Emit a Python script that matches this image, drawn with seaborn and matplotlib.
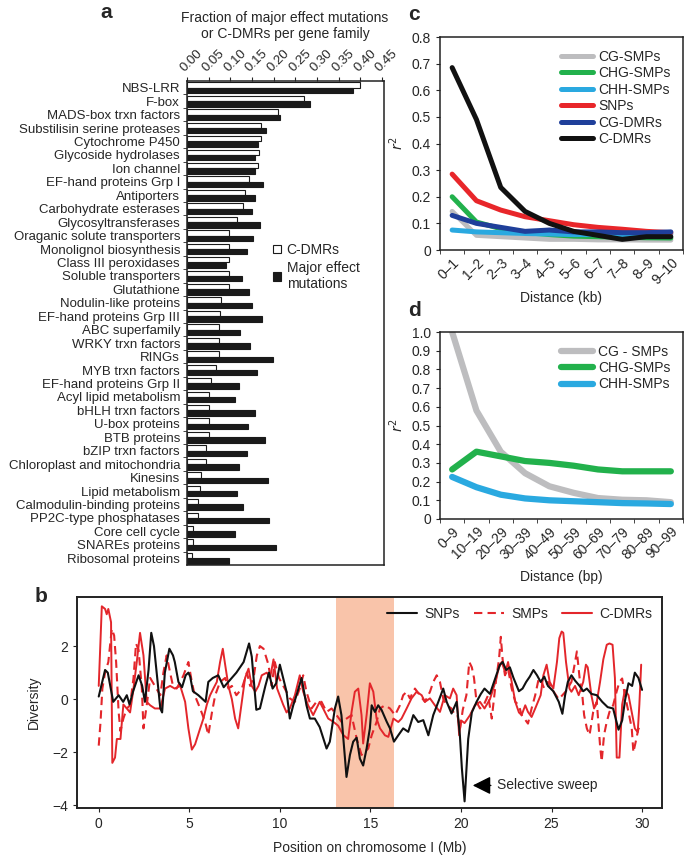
import numpy as np
import pandas as pd
import matplotlib
matplotlib.use("Agg")
import matplotlib.pyplot as plt
from matplotlib.patches import Patch
from matplotlib.lines import Line2D
import seaborn as sns

# ---------------------------
# Data
# ---------------------------
families = ["NBS-LRR", "F-box", "MADS-box trxn factors", "Substilisin serine proteases",
            "Cytochrome P450", "Glycoside hydrolases", "Ion channel", "EF-hand proteins Grp I",
            "Antiporters", "Carbohydrate esterases", "Glycosyltransferases",
            "Oraganic solute transporters", "Monolignol biosynthesis", "Class III peroxidases",
            "Soluble transporters", "Glutathione", "Nodulin-like proteins",
            "EF-hand proteins Grp III", "ABC superfamily", "WRKY trxn factors", "RINGs",
            "MYB trxn factors", "EF-hand proteins Grp II", "Acyl lipid metabolism",
            "bHLH trxn factors", "U-box proteins", "BTB proteins", "bZIP trxn factors",
            "Chloroplast and mitochondria", "Kinesins", "Lipid metabolism",
            "Calmodulin-binding proteins", "PP2C-type phosphatases", "Core cell cycle",
            "SNAREs proteins", "Ribosomal proteins"]
cdmr_frac = [0.40, 0.27, 0.21, 0.172, 0.171, 0.166, 0.165, 0.143, 0.133, 0.13, 0.115, 0.098,
             0.098, 0.097, 0.096, 0.096, 0.078, 0.076, 0.074, 0.073, 0.073, 0.068, 0.055, 0.051,
             0.05, 0.05, 0.05, 0.043, 0.043, 0.032, 0.031, 0.026, 0.026, 0.015, 0.014, 0.012]
major_frac = [0.383, 0.283, 0.215, 0.182, 0.165, 0.158, 0.158, 0.175, 0.158, 0.149, 0.169, 0.152,
              0.138, 0.09, 0.128, 0.143, 0.15, 0.174, 0.123, 0.146, 0.198, 0.162, 0.12, 0.111,
              0.158, 0.142, 0.181, 0.138, 0.12, 0.187, 0.116, 0.129, 0.19, 0.112, 0.206, 0.098]

# panel b: diversity along chromosome I
snp_pos = [0, 0.35, 0.5, 0.8, 1.1, 1.35, 1.55, 1.7, 1.9, 2.2, 2.4, 2.55, 2.75, 2.9, 3.05, 3.4, 3.5,
           3.65, 3.9, 4.1, 4.2, 4.4, 4.6, 4.8, 4.95, 5.05, 5.2, 5.5, 5.9, 6.05, 6.3, 6.6, 6.9, 7.35,
           7.6, 8.0, 8.3, 8.45, 8.55, 8.7, 8.9, 9.2, 9.4, 9.6, 9.8, 10.0, 10.18, 10.37, 10.55,
           10.74, 10.92, 11.2, 11.47, 11.66, 11.93, 12.2, 12.58, 12.76, 13.04, 13.22, 13.4, 13.68,
           13.87, 14.05, 14.24, 14.42, 14.6, 14.79, 14.97, 15.07, 15.25, 15.43, 15.62, 15.9, 16.08,
           16.3, 16.54, 16.81, 17.09, 17.37, 17.64, 17.92, 18.2, 18.47, 18.75, 19.02, 19.21, 19.48,
           19.76, 19.94, 20.05, 20.2, 20.4, 20.6, 20.86, 21.1, 21.3, 21.6, 21.9, 22.15, 22.3, 22.5,
           22.7, 22.9, 23.2, 23.4, 23.6, 23.8, 24.0, 24.2, 24.4, 24.6, 24.8, 25.1, 25.4, 25.6,
           25.75, 25.9, 26.1, 26.3, 26.55, 26.75, 26.95, 27.2, 27.5, 27.8, 28.1, 28.4, 28.7, 28.9,
           29.07, 29.25, 29.45, 29.6, 29.8, 30.0]
snp_div = [0.1, 1.1, 1.0, -0.1, 0.15, -0.1, 0.15, -0.2, 0.3, 0.9, 0.5, -0.1, 1.1, 2.5, 2.0, -0.35,
           -0.5, 1.0, 1.9, 1.65, 1.4, 0.65, 0.45, 0.9, 1.0, 0.85, 0.3, 0.15, -0.1, 0.65, 0.8, 0.9,
           0.45, 0.8, 1.0, 1.4, 2.1, 1.6, 0.8, -0.4, -0.35, 0.5, 1.0, 0.4, 0.6, 1.3, 0.8, 0.28,
           -0.73, -0.23, 0.15, 0.8, -0.23, -0.73, -0.73, -1.05, -1.86, -1.6, -0.35, 0.1, -0.6,
           -2.93, -2.1, -1.6, -1.45, -2.24, -2.5, -1.86, -1.1, -0.23, -0.48, -0.23, -0.41, -0.85,
           -1.1, -1.6, -1.36, -1.1, -1.23, -0.6, -0.86, -0.79, -1.36, -0.6, -0.1, 0.4, -0.1,
           -0.54, -0.1, -1.36, -2.6, -3.85, -1.5, -0.5, -0.1, 0.2, 0.4, 0.2, 0.8, 1.3, 1.4, 1.1,
           1.2, 0.8, 0.3, 0.4, 0.65, 0.85, 1.1, 0.9, 0.65, 0.85, 0.5, 0.3, -0.1, -0.55, 0.15, 0.65,
           0.9, 0.7, 0.5, 0.3, 0.4, 0.2, 0.15, -0.1, -0.3, -0.35, -1.15, -0.8, 0.0, 0.6, 0.5, 1.0,
           0.8, 0.35]

smp_pos = [0, 0.1, 0.2, 0.35, 0.53, 0.72, 0.85, 0.96, 1.1, 1.2, 1.36, 1.55, 1.73, 1.92, 2.06, 2.2,
           2.38, 2.47, 2.65, 2.84, 3.1, 3.4, 3.57, 3.75, 3.94, 4.1, 4.3, 4.5, 4.68, 4.95, 5.14, 5.3,
           5.6, 5.87, 6.05, 6.25, 6.43, 6.7, 6.98, 7.16, 7.35, 7.6, 7.9, 8.18, 8.36, 8.55, 8.73,
           8.9, 9.1, 9.37, 9.55, 9.72, 9.95, 10.27, 10.55, 10.83, 11.1, 11.29, 11.47, 11.75, 12.02,
           12.3, 12.58, 12.86, 13.13, 13.41, 13.68, 13.96, 14.24, 14.51, 14.7, 14.88, 15.07, 15.34,
           15.53, 15.8, 16.08, 16.36, 16.63, 16.81, 17.0, 17.18, 17.46, 17.73, 18.01, 18.29, 18.47,
           18.66, 18.84, 19.02, 19.21, 19.48, 19.67, 19.8, 19.95, 20.1, 20.3, 20.46, 20.6, 20.72,
           20.86, 21.05, 21.25, 21.5, 21.7, 21.82, 21.95, 22.1, 22.2, 22.3, 22.43, 22.6, 22.8,
           23.0, 23.2, 23.35, 23.5, 23.7, 23.9, 24.1, 24.3, 24.45, 24.6, 24.8, 25.1, 25.4, 25.6,
           25.8, 26.1, 26.3, 26.4, 26.55, 26.7, 26.8, 26.95, 27.1, 27.3, 27.5, 27.68, 27.77, 27.9,
           28.05, 28.2, 28.4, 28.6, 28.75, 28.9, 29.05, 29.25, 29.43, 29.52, 29.65, 29.8, 29.9]
smp_div = [-1.75, -0.85, 0.4, 1.0, 1.4, 2.65, 2.4, 1.4, -0.5, -1.2, -0.73, -0.35, -0.23, 0.8, 2.1,
           1.85, 0.4, -1.1, -0.23, 0.8, 0.5, 0.15, 1.0, 1.65, 1.0, 0.5, 0.4, 0.65, 0.9, 1.4, 0.65,
           0.15, -0.35, -0.85, -1.35, -0.5, 0.15, 0.65, 0.8, 0.4, 0.5, 0.15, 0.4, 1.0, 0.5, 0.8,
           1.65, 2.0, 1.9, 1.3, 0.5, 1.4, 0.8, 0.4, 0.03, -0.1, 0.4, 0.9, 0.28, -0.35, -0.1, -0.1,
           -0.48, -0.35, -0.6, -0.86, -0.73, -0.6, -1.48, -2.1, -1.98, -1.86, -1.36, -0.86, -0.35,
           -0.23, -0.35, -0.6, -0.23, 0.15, 0.28, 0.03, 0.4, 0.15, -0.1, 0.28, 0.65, 0.9, 0.65,
           0.03, -0.23, -0.35, -0.6, -0.6, -1.1, -0.4, 0.15, 1.4, 1.2, 0.8, -0.1, -0.35, -0.23,
           0.15, -0.73, 0.0, 0.8, 1.5, 2.35, 1.5, 0.9, 1.15, 0.4, -0.1, -0.23, -0.6, -0.73, -0.92,
           -0.35, 0.15, 0.8, 0.65, 0.4, 0.65, 0.3, 0.0, 0.15, 0.3, 0.65, 1.4, 1.8, 0.8, 0.15, -0.6,
           -1.1, -1.35, -0.48, -0.1, -1.75, -2.35, -1.35, -0.85, -0.48, -0.23, 0.3, 0.65, 0.78,
           0.15, -0.48, -1.1, -2.0, -1.6, -1.1, -1.25]

dmr_pos = [0, 0.17, 0.35, 0.44, 0.53, 0.68, 0.75, 0.9, 1.0, 1.2, 1.36, 1.55, 1.73, 1.9, 2.1, 2.28,
           2.47, 2.65, 2.84, 3.1, 3.4, 3.66, 3.94, 4.2, 4.5, 4.77, 4.95, 5.14, 5.32, 5.6, 5.78,
           5.97, 6.15, 6.33, 6.52, 6.7, 6.85, 6.98, 7.16, 7.35, 7.53, 7.7, 7.9, 8.08, 8.27, 8.45,
           8.64, 8.82, 9.0, 9.28, 9.46, 9.65, 9.85, 10.18, 10.37, 10.55, 10.83, 11.1, 11.29, 11.56,
           11.84, 12.2, 12.39, 12.67, 12.95, 13.22, 13.5, 13.77, 13.96, 14.14, 14.33, 14.51, 14.6,
           14.79, 14.97, 15.16, 15.34, 15.53, 15.8, 15.99, 16.27, 16.54, 16.72, 17.0, 17.27, 17.55,
           17.83, 18.01, 18.29, 18.56, 18.84, 19.11, 19.39, 19.57, 19.76, 19.9, 20.0, 20.2, 20.5,
           20.77, 21.05, 21.3, 21.6, 21.9, 22.1, 22.25, 22.45, 22.6, 22.8, 23.0, 23.2, 23.35, 23.55,
           23.7, 23.9, 24.1, 24.4, 24.55, 24.73, 24.9, 25.1, 25.3, 25.43, 25.56, 25.65, 25.8, 25.99,
           26.1, 26.3, 26.5, 26.75, 26.9, 27.0, 27.2, 27.35, 27.5, 27.68, 27.86, 28.05, 28.2, 28.37,
           28.5, 28.6, 28.75, 28.9, 29.05, 29.25, 29.43, 29.6, 29.76, 29.85, 29.95]
dmr_div = [0.5, 3.5, 3.4, 3.2, 3.4, 2.9, -2.4, -2.2, -1.5, -1.5, -0.2, -0.35, -0.5, 0.3, 1.4, 2.5,
           1.65, -0.1, -0.23, -0.35, -0.35, 0.4, 0.5, 0.4, 0.5, -0.1, -1.1, -1.9, -1.7, -1.1, -0.73,
           -0.2, 0.15, 0.4, 0.65, 1.4, 1.9, 1.3, 0.5, 0.0, -0.73, -1.1, -0.1, 0.8, 1.15, 0.5, 0.28,
           0.5, 0.9, 1.0, 0.8, 1.5, 0.4, -0.2, -0.5, -0.35, 0.15, 0.9, 0.28, -0.23, -0.6, -0.1,
           -0.35, -0.73, -0.85, -1.0, -1.35, -1.5, -0.48, 0.28, 0.4, -0.6, -1.67, -0.6, 0.6, 0.28,
           -0.73, -1.1, -1.36, -1.42, -0.73, -0.86, -0.73, -0.35, 0.03, 0.28, 0.15, -0.1, 0.03,
           -0.23, -0.48, 0.15, 0.03, 0.4, 0.15, -1.36, -0.8, -0.9, -0.6, -0.23, -0.1, -0.35, 0.0,
           0.65, 1.2, 1.4, 1.0, 1.4, 0.65, -0.1, -0.5, -0.6, -0.23, -0.48, -0.67, -0.35, 0.15, 0.9,
           1.3, 0.65, 0.4, 1.4, 2.3, 2.55, 2.5, 1.4, 0.4, 0.28, 0.5, 0.15, 0.65, 1.3, 1.2, 0.15,
           -0.35, -0.1, 0.65, 1.5, 2.05, 2.1, 2.05, 0.8, -2.2, -2.2, -0.2, 0.35, 0.15, -0.5, -1.1,
           -1.25, -0.2, 1.3]

# panel c: LD decay (kb)
kb_bins = ["0\u20131", "1\u20132", "2\u20133", "3\u20134", "4\u20135",
           "5\u20136", "6\u20137", "7\u20138", "8\u20139", "9\u201310"]
c_series = ["CG-SMPs", "CHG-SMPs", "CHH-SMPs", "SNPs", "CG-DMRs", "C-DMRs"]
cg_smp_kb = [0.145, 0.055, 0.05, 0.045, 0.04, 0.04, 0.038, 0.038, 0.037, 0.037]
chg_smp_kb = [0.2, 0.105, 0.08, 0.065, 0.058, 0.052, 0.05, 0.048, 0.046, 0.045]
chh_smp_kb = [0.075, 0.068, 0.065, 0.062, 0.06, 0.058, 0.058, 0.057, 0.058, 0.06]
snp_kb = [0.285, 0.185, 0.15, 0.125, 0.11, 0.095, 0.085, 0.078, 0.07, 0.065]
cg_dmr_kb = [0.13, 0.1, 0.085, 0.07, 0.075, 0.068, 0.068, 0.065, 0.065, 0.068]
c_dmr_kb = [0.685, 0.49, 0.235, 0.145, 0.1, 0.07, 0.055, 0.04, 0.05, 0.05]

# panel d: LD decay (bp)
bp_bins = ["0\u20139", "10\u201319", "20\u201329", "30\u201339", "40\u201349",
           "50\u201359", "60\u201369", "70\u201379", "80\u201389", "90\u201399"]
d_series = ["CG-SMPs", "CHG-SMPs", "CHH-SMPs"]
cg_smp_bp = [1.0, 0.58, 0.36, 0.245, 0.175, 0.14, 0.112, 0.103, 0.1, 0.09]
chg_smp_bp = [0.265, 0.36, 0.335, 0.31, 0.3, 0.285, 0.265, 0.255, 0.255, 0.255]
chh_smp_bp = [0.225, 0.17, 0.13, 0.11, 0.1, 0.095, 0.09, 0.085, 0.083, 0.08]

c_colors = {"CG-SMPs": "#bdbdbf", "CHG-SMPs": "#22b14c", "CHH-SMPs": "#2aa9e0",
            "SNPs": "#e8262a", "CG-DMRs": "#1f3f9a", "C-DMRs": "#111111"}
red = "#e3262b"

# ---------------------------
# Style
# ---------------------------
sns.set_style("ticks")
plt.rcParams['font.family'] = ['Liberation Sans', 'DejaVu Sans']
plt.rcParams['axes.linewidth'] = 1.1
plt.rcParams['axes.edgecolor'] = '#222222'
plt.rcParams['xtick.major.size'] = 3
plt.rcParams['ytick.major.size'] = 3
plt.rcParams['xtick.minor.size'] = 3
plt.rcParams['ytick.minor.size'] = 3

fig = plt.figure(figsize=(6.85, 8.6), dpi=100)

# ---------------------------
# Panel a
# ---------------------------
ax_a = fig.add_axes([187/685, 1-565/860, 197/685, 484/860])
df_a = pd.DataFrame({
    "family": families * 2,
    "fraction": cdmr_frac + major_frac,
    "kind": ["C-DMRs"] * len(families) + ["Major effect mutations"] * len(families),
})
sns.barplot(data=df_a, y="family", x="fraction", hue="kind", orient="h",
            palette={"C-DMRs": "white", "Major effect mutations": "#1a1a1a"},
            edgecolor="#1a1a1a", linewidth=0.8, width=0.8, ax=ax_a, legend=False)
ax_a.set_xlim(0, 0.455)
ax_a.set_ylim(len(families) - 0.5, -0.5)
ax_a.xaxis.tick_top()
ax_a.set_xticks(np.arange(0, 0.451, 0.05))
ax_a.set_xticklabels([f"{v:.2f}" for v in np.arange(0, 0.451, 0.05)], rotation=45,
                     ha="left", va="bottom", rotation_mode="anchor", fontsize=9.5)
ax_a.tick_params(axis="x", pad=2)
ax_a.set_yticks(range(len(families)))
ax_a.set_yticklabels(families, fontsize=9.5)
ax_a.tick_params(axis="y", length=0, pad=5)
ax_a.set_yticks(np.arange(0.5, len(families) - 0.5, 1), minor=True)
ax_a.tick_params(axis="y", which="minor", length=3)
ax_a.set_xlabel("")
ax_a.set_ylabel("")
fig.text(285/685, 1-26/860, "Fraction of major effect mutations\nor C-DMRs per gene family",
         ha="center", va="center", fontsize=10, linespacing=1.15)
handles_a = [Patch(facecolor="white", edgecolor="#1a1a1a", linewidth=0.8),
             Patch(facecolor="#1a1a1a", edgecolor="#1a1a1a", linewidth=0.8)]
ax_a.legend(handles_a, ["C-DMRs", "Major effect\nmutations"], loc="upper left",
            bbox_to_anchor=(0.40, 0.68), frameon=False, fontsize=10, handlelength=0.6,
            handleheight=0.6, handletextpad=0.4, borderpad=0, labelspacing=0.3)

# ---------------------------
# Panel c
# ---------------------------
ax_c = fig.add_axes([440/685, 1-250/860, 243/685, 213/860])
df_c = pd.DataFrame({
    "pos": list(range(len(kb_bins))) * len(c_series),
    "r2": cg_smp_kb + chg_smp_kb + chh_smp_kb + snp_kb + cg_dmr_kb + c_dmr_kb,
    "series": [s for s in c_series for _ in kb_bins],
})
sns.lineplot(data=df_c, x="pos", y="r2", hue="series", hue_order=c_series,
             palette=c_colors, linewidth=3.6, ax=ax_c, estimator=None)
ax_c.set_xlim(-0.5, len(kb_bins) - 0.5)
ax_c.set_ylim(0, 0.8)
ax_c.set_yticks(np.arange(0, 0.81, 0.1))
ax_c.set_yticklabels(["0"] + [f"{v:.1f}" for v in np.arange(0.1, 0.81, 0.1)], fontsize=10)
ax_c.set_xticks(range(len(kb_bins)))
ax_c.set_xticklabels(kb_bins, rotation=45, ha="right", va="top", rotation_mode="anchor",
                     fontsize=10)
ax_c.tick_params(axis="x", length=0, pad=4)
ax_c.set_xticks(np.arange(-0.5, len(kb_bins)), minor=True)
ax_c.tick_params(axis="x", which="minor", length=3)
ax_c.set_xlabel("Distance (kb)", fontsize=10, labelpad=3)
ax_c.set_ylabel("$r^2$", fontsize=10, labelpad=4)
ax_c.legend(loc="upper right", frameon=False, fontsize=10, handlelength=2.3,
            handletextpad=0.4, labelspacing=0.18, borderaxespad=0.5)

# ---------------------------
# Panel d
# ---------------------------
ax_d = fig.add_axes([440/685, 1-519/860, 243/685, 187/860])
df_d = pd.DataFrame({
    "pos": list(range(len(bp_bins))) * len(d_series),
    "r2": cg_smp_bp + chg_smp_bp + chh_smp_bp,
    "series": [s for s in d_series for _ in bp_bins],
})
sns.lineplot(data=df_d, x="pos", y="r2", hue="series", hue_order=d_series,
             palette=c_colors, linewidth=4.5, ax=ax_d, estimator=None)
ax_d.set_xlim(-0.5, len(bp_bins) - 0.5)
ax_d.set_ylim(0, 1.0)
ax_d.set_yticks(np.arange(0, 1.01, 0.1))
ax_d.set_yticklabels(["0"] + [f"{v:.1f}" for v in np.arange(0.1, 1.01, 0.1)], fontsize=10)
ax_d.set_xticks(range(len(bp_bins)))
ax_d.set_xticklabels(bp_bins, rotation=45, ha="right", va="top", rotation_mode="anchor",
                     fontsize=10)
ax_d.tick_params(axis="x", length=0, pad=4)
ax_d.set_xticks(np.arange(-0.5, len(bp_bins)), minor=True)
ax_d.tick_params(axis="x", which="minor", length=3)
ax_d.set_xlabel("Distance (bp)", fontsize=10, labelpad=6)
ax_d.set_ylabel("$r^2$", fontsize=10, labelpad=4)
leg_d = ax_d.legend(loc="upper right", frameon=False, fontsize=10, handlelength=2.3,
                    handletextpad=0.4, labelspacing=0.18, borderaxespad=0.5)
leg_d.get_texts()[0].set_text("CG - SMPs")

# ---------------------------
# Panel b
# ---------------------------
ax_b = fig.add_axes([77/685, 1-808/860, 585/685, 211/860])
ax_b.axvspan(13.1, 16.3, color="#f9c4aa", lw=0, zorder=0)
sns.lineplot(x=smp_pos, y=smp_div, color=red, linewidth=1.5, ax=ax_b, sort=False,
             estimator=None, linestyle=(0, (4, 2.5)))
sns.lineplot(x=dmr_pos, y=dmr_div, color=red, linewidth=1.4, ax=ax_b, sort=False,
             estimator=None)
sns.lineplot(x=snp_pos, y=snp_div, color="#111111", linewidth=1.5, ax=ax_b, sort=False,
             estimator=None)
ax_b.set_xlim(-1.2, 31.1)
ax_b.set_ylim(-4.1, 3.85)
ax_b.set_xticks(range(0, 31, 5))
ax_b.set_yticks([-4, -2, 0, 2])
ax_b.tick_params(labelsize=10)
ax_b.set_xlabel("Position on chromosome I (Mb)", fontsize=10, labelpad=7)
ax_b.set_ylabel("Diversity", fontsize=10, labelpad=8)
for sp in ax_b.spines.values():
    sp.set_linewidth(1.4)
handles_b = [Line2D([], [], color="#111111", lw=1.5),
             Line2D([], [], color=red, lw=1.5, linestyle=(0, (4, 2.5))),
             Line2D([], [], color=red, lw=1.5)]
ax_b.legend(handles_b, ["SNPs", "SMPs", "C-DMRs"], loc="upper right", ncol=3,
            frameon=False, fontsize=10, handlelength=2.2, handletextpad=0.5,
            columnspacing=1.0, borderaxespad=0.3)
ax_b.annotate("", xy=(20.65, -3.25), xytext=(21.65, -3.25),
              arrowprops=dict(arrowstyle="-|>,head_length=1.1,head_width=0.55",
                              color="black", shrinkA=0, shrinkB=0, lw=1))
ax_b.text(22.0, -3.25, "Selective sweep", fontsize=10, va="center", ha="left")

# panel letters
for letter, x, y in [("a", 100, 13), ("c", 408, 14), ("d", 408, 310), ("b", 35, 597)]:
    fig.text(x/685, 1-y/860, letter, fontsize=15, fontweight="bold", va="center", ha="left")

fig.savefig("out.png", dpi=100)
